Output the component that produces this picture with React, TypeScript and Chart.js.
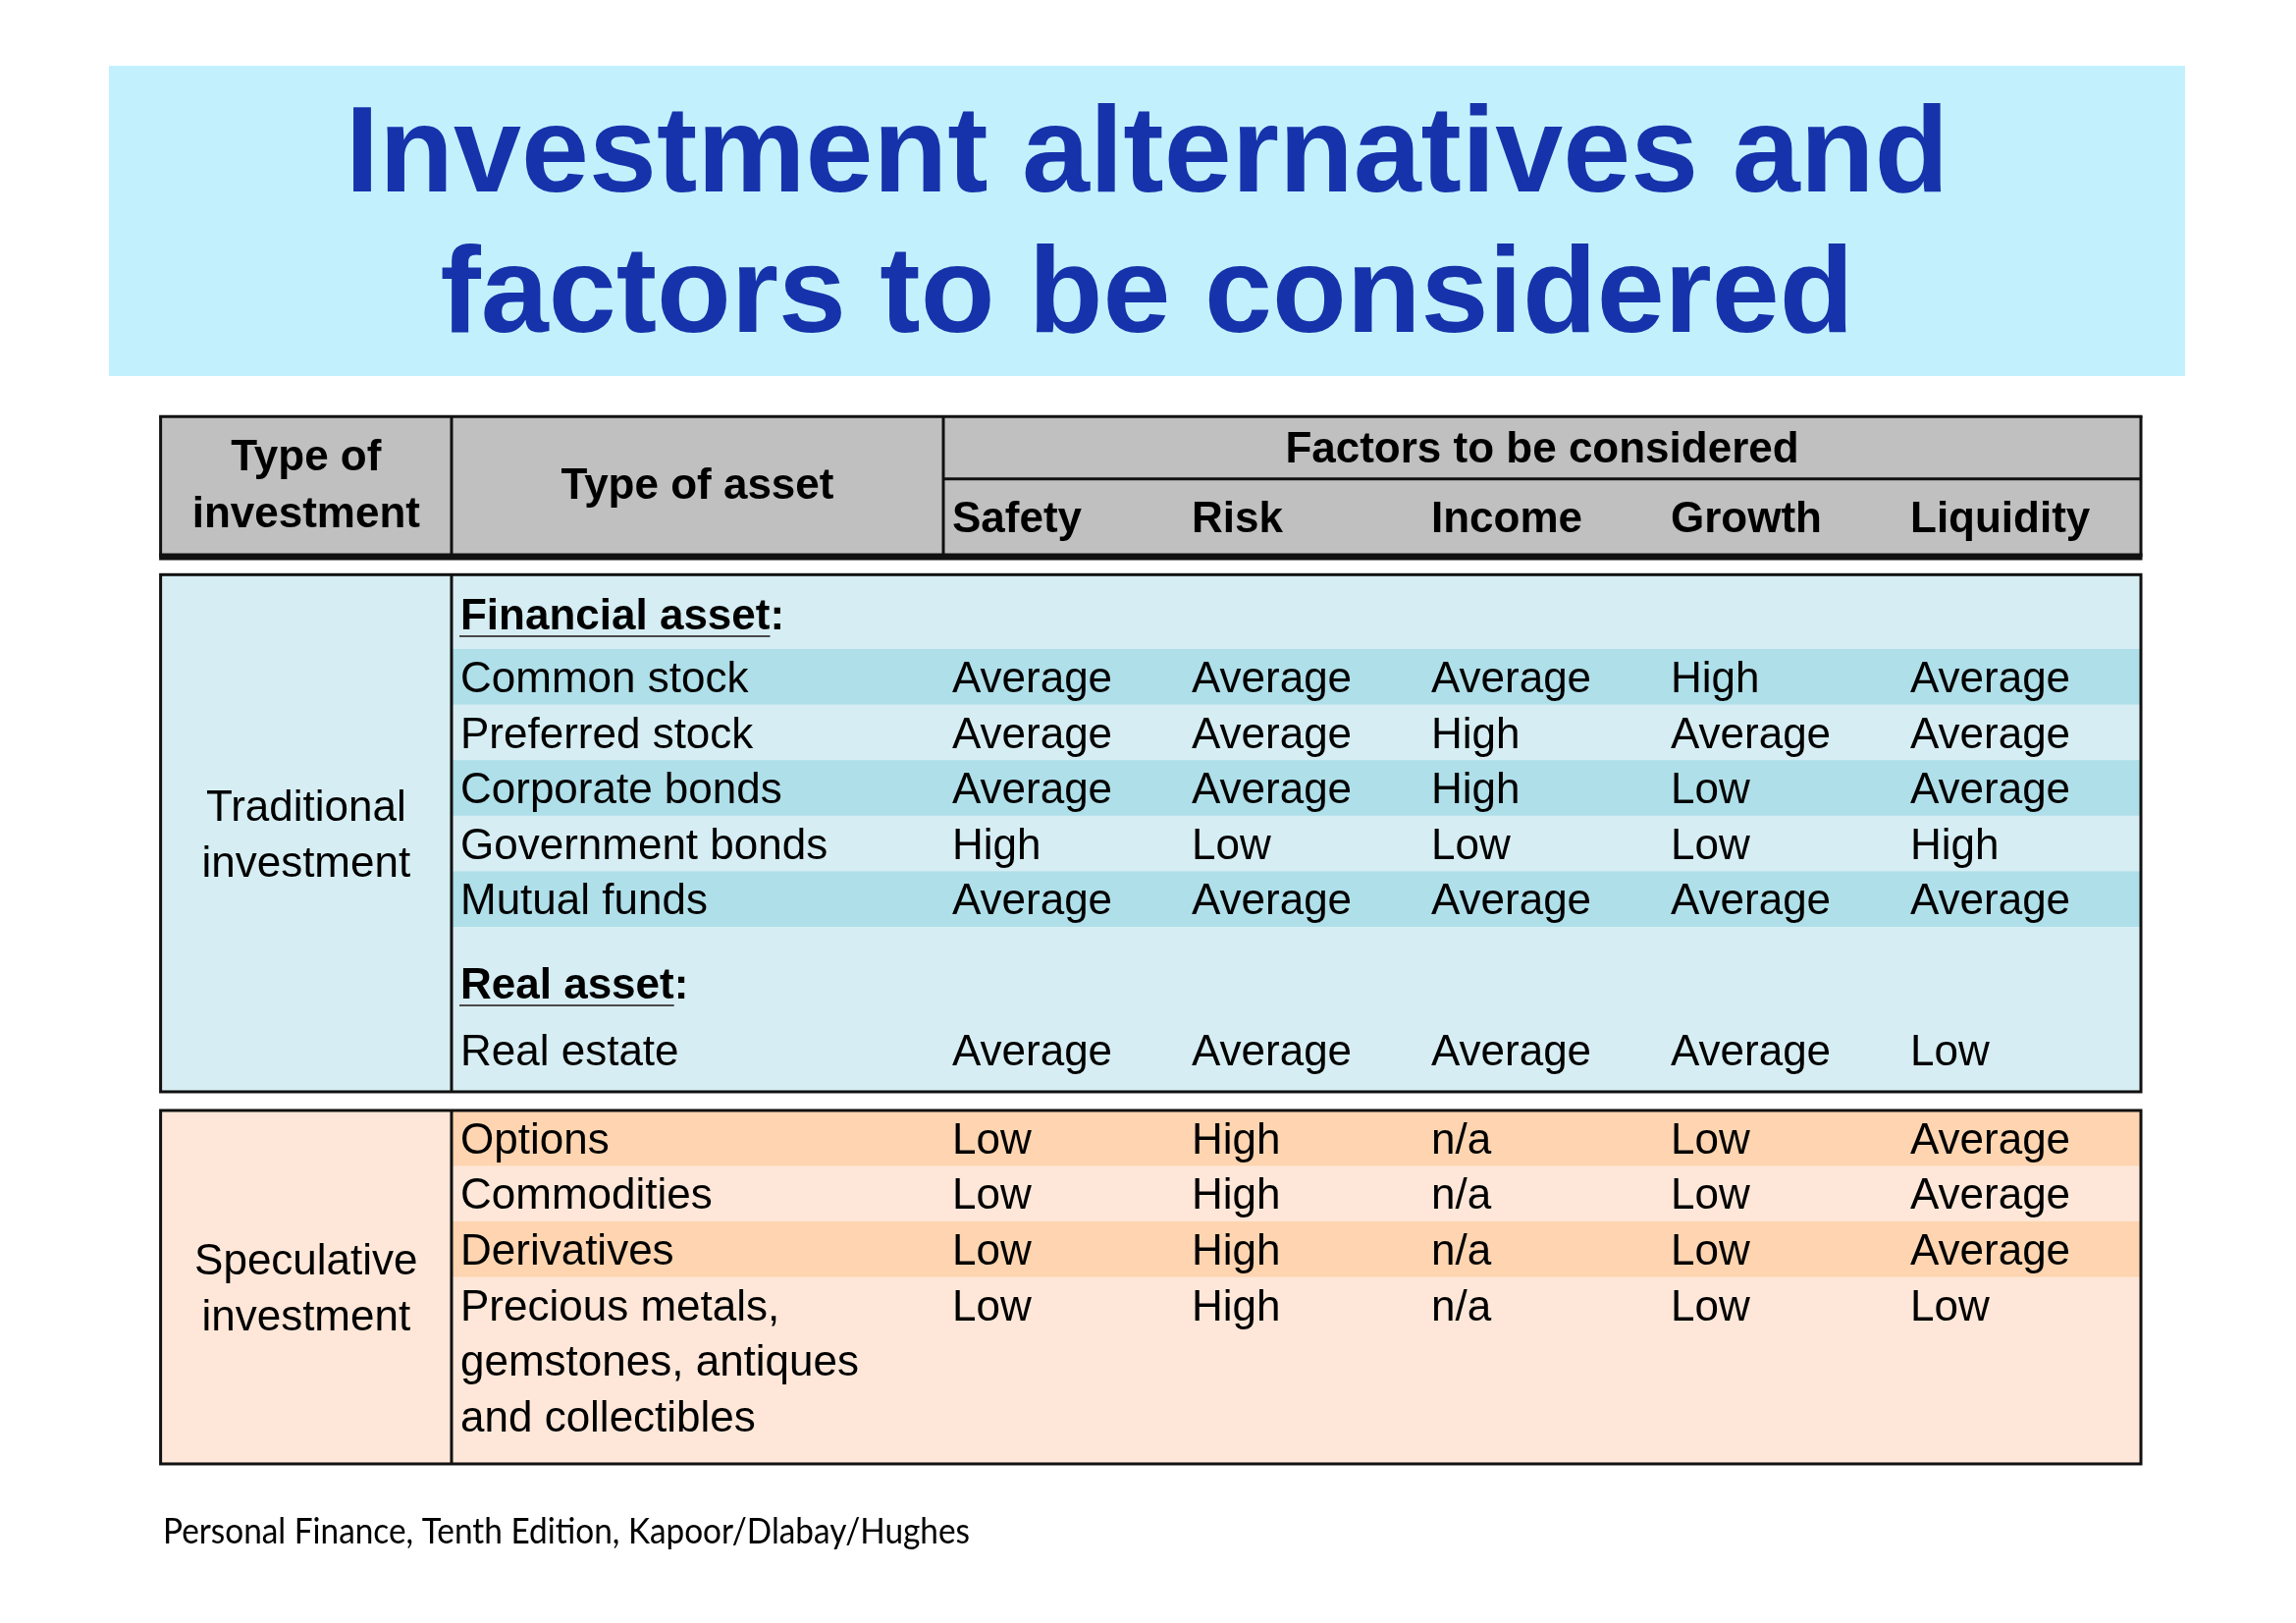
import React, { useEffect, useRef } from 'react';
import { Chart, registerables } from 'chart.js';

Chart.register(...registerables);

// ---------- content ----------
const TITLE_LINES = ['Investment alternatives and', 'factors to be considered'];
const SOURCE = 'Personal Finance, Tenth Edition, Kapoor/Dlabay/Hughes';

const HEAD_INVESTMENT = ['Type of', 'investment'];
const HEAD_ASSET = 'Type of asset';
const HEAD_FACTORS = 'Factors to be considered';
const FACTORS = ['Safety', 'Risk', 'Income', 'Growth', 'Liquidity'];

const TRAD_LABEL = ['Traditional', 'investment'];
const TRAD_HEADINGS = ['Financial asset', 'Real asset'];
const TRAD_ASSETS = ['Common stock', 'Preferred stock', 'Corporate bonds', 'Government bonds', 'Mutual funds', 'Real estate'];
const TRAD_SAFETY = ['Average', 'Average', 'Average', 'High', 'Average', 'Average'];
const TRAD_RISK = ['Average', 'Average', 'Average', 'Low', 'Average', 'Average'];
const TRAD_INCOME = ['Average', 'High', 'High', 'Low', 'Average', 'Average'];
const TRAD_GROWTH = ['High', 'Average', 'Low', 'Low', 'Average', 'Average'];
const TRAD_LIQUIDITY = ['Average', 'Average', 'Average', 'High', 'Average', 'Low'];

const SPEC_LABEL = ['Speculative', 'investment'];
const SPEC_ASSETS = [['Options'], ['Commodities'], ['Derivatives'], ['Precious metals,', 'gemstones, antiques', 'and collectibles']];
const SPEC_SAFETY = ['Low', 'Low', 'Low', 'Low'];
const SPEC_RISK = ['High', 'High', 'High', 'High'];
const SPEC_INCOME = ['n/a', 'n/a', 'n/a', 'n/a'];
const SPEC_GROWTH = ['Low', 'Low', 'Low', 'Low'];
const SPEC_LIQUIDITY = ['Average', 'Average', 'Average', 'Low'];

// ---------- layout (x: factor-column units, y: row units) ----------
const X_MIN = -3.9385;
const X_MAX = 5.6475;
const Y_MIN = -11.678;
const Y_MAX = 17.527;
const COL_INV = [-3.268, -2.0533];
const COL_ASSET = [-2.0533, 0];
const TABLE_RIGHT = 5;
const HEADER = { top: -4.182, mid: -3.062, bottom: -1.661 };
const HEADER_TEXT_Y = { inv: [-3.489, -2.474], asset: -2.976, factors: -3.64, names: -2.386 };
const TRAD_BLOCK = [-1.337, 7.968];
const SPEC_BLOCK = [8.304, 14.664];
const TRAD_ROW_Y = [0.5, 1.5, 2.5, 3.5, 4.5, 7.213];
const TRAD_HEADING_Y = [-0.632, 6.011];
const TRAD_BANDED = [0, 2, 4];
const SPEC_ROW_Y = [8.8, 9.8, 10.8, 11.8];
const SPEC_BANDED = [0, 2];

// ---------- styles ----------
const FONT = '"Liberation Sans", Arial, Helvetica, sans-serif';
const FONT_SIZE = 44;
const CAP = 0.716 * FONT_SIZE;
const PAD = 9;
const TITLE_BG = '#c2f1fd';
const TITLE_COLOR = '#1733ab';
const HEADER_BG = '#c0c0c0';
const TRAD_BG = '#d6eef3';
const TRAD_BAND = '#afdfe9';
const SPEC_BG = '#fee7d8';
const SPEC_BAND = '#fed5b0';
const LINE = '#111111';

const FACTOR_TRAD = [TRAD_SAFETY, TRAD_RISK, TRAD_INCOME, TRAD_GROWTH, TRAD_LIQUIDITY];
const FACTOR_SPEC = [SPEC_SAFETY, SPEC_RISK, SPEC_INCOME, SPEC_GROWTH, SPEC_LIQUIDITY];

function buildDatasets() {
  const ds: any[] = [];
  ds.push({
    label: 'trad-asset',
    data: TRAD_ASSETS.map((_, i) => ({ x: COL_ASSET[0], y: TRAD_ROW_Y[i] })),
    cellText: TRAD_ASSETS.map((t) => [t]),
  });
  FACTORS.forEach((f, fi) => {
    ds.push({
      label: 'trad-' + f,
      data: FACTOR_TRAD[fi].map((_, i) => ({ x: fi, y: TRAD_ROW_Y[i] })),
      cellText: FACTOR_TRAD[fi].map((t) => [t]),
    });
  });
  ds.push({
    label: 'spec-asset',
    data: SPEC_ASSETS.map((_, i) => ({ x: COL_ASSET[0], y: SPEC_ROW_Y[i] })),
    cellText: SPEC_ASSETS,
  });
  FACTORS.forEach((f, fi) => {
    ds.push({
      label: 'spec-' + f,
      data: FACTOR_SPEC[fi].map((_, i) => ({ x: fi, y: SPEC_ROW_Y[i] })),
      cellText: FACTOR_SPEC[fi].map((t) => [t]),
    });
  });
  return ds;
}

const tablePlugin = {
  id: 'investmentTable',
  afterDraw(chart: any) {
    const ctx: CanvasRenderingContext2D = chart.ctx;
    const xs = chart.scales.x;
    const ys = chart.scales.y;
    const X = (v: number) => xs.getPixelForValue(v);
    const Y = (v: number) => ys.getPixelForValue(v);
    const unit = Y(1) - Y(0);
    const line = (x1: number, y1: number, x2: number, y2: number) => {
      ctx.beginPath();
      ctx.moveTo(x1, y1);
      ctx.lineTo(x2, y2);
      ctx.stroke();
    };
    const base = (v: number) => Y(v) + CAP / 2;

    ctx.save();
    ctx.textBaseline = 'alphabetic';

    // title
    ctx.fillStyle = TITLE_BG;
    ctx.fillRect(111, 67, 2115, 316);
    ctx.fillStyle = TITLE_COLOR;
    ctx.font = `bold 124px ${FONT}`;
    ctx.textAlign = 'center';
    TITLE_LINES.forEach((t, i) => ctx.fillText(t, 1168.5, 195 + i * 143));

    const xL = X(COL_INV[0]);
    const xD = X(COL_ASSET[0]);
    const xF = X(0);
    const xR = X(TABLE_RIGHT);

    // header
    const hT = Y(HEADER.top);
    const hM = Y(HEADER.mid);
    const hB = Y(HEADER.bottom);
    ctx.fillStyle = HEADER_BG;
    ctx.fillRect(xL, hT, xR - xL, hB - hT);
    ctx.strokeStyle = LINE;
    ctx.lineWidth = 3;
    line(xL - 1.5, hT, xR + 1.5, hT);
    line(xL, hT, xL, hB);
    line(xR, hT, xR, hB);
    line(xD, hT, xD, hB);
    line(xF, hT, xF, hB);
    line(xF, hM, xR, hM);
    ctx.lineWidth = 7;
    line(xL - 1.5, hB, xR + 1.5, hB);

    ctx.fillStyle = '#000';
    ctx.font = `bold ${FONT_SIZE}px ${FONT}`;
    ctx.textAlign = 'center';
    HEAD_INVESTMENT.forEach((t, i) => ctx.fillText(t, (xL + xD) / 2, base(HEADER_TEXT_Y.inv[i])));
    ctx.fillText(HEAD_ASSET, (xD + xF) / 2, base(HEADER_TEXT_Y.asset));
    ctx.fillText(HEAD_FACTORS, (xF + xR) / 2, base(HEADER_TEXT_Y.factors));
    ctx.textAlign = 'left';
    FACTORS.forEach((f, i) => ctx.fillText(f, X(i) + PAD, base(HEADER_TEXT_Y.names)));

    // blocks
    const block = (range: number[], bg: string, band: string, rowsY: number[], banded: number[], label: string[]) => {
      const t = Y(range[0]);
      const b = Y(range[1]);
      ctx.fillStyle = bg;
      ctx.fillRect(xL, t, xR - xL, b - t);
      ctx.fillStyle = band;
      banded.forEach((ri) => {
        const top = Math.max(Y(rowsY[ri] - 0.5), t);
        const bot = Y(rowsY[ri] + 0.5);
        ctx.fillRect(xD, top, xR - xD, bot - top);
      });
      ctx.strokeStyle = LINE;
      ctx.lineWidth = 3;
      ctx.strokeRect(xL, t, xR - xL, b - t);
      line(xD, t, xD, b);
      const mid = (range[0] + range[1]) / 2;
      ctx.fillStyle = '#000';
      ctx.font = `${FONT_SIZE}px ${FONT}`;
      ctx.textAlign = 'center';
      label.forEach((l, i) => ctx.fillText(l, (xL + xD) / 2, base(mid - 0.5 + i)));
    };
    block(TRAD_BLOCK, TRAD_BG, TRAD_BAND, TRAD_ROW_Y, TRAD_BANDED, TRAD_LABEL);
    block(SPEC_BLOCK, SPEC_BG, SPEC_BAND, SPEC_ROW_Y, SPEC_BANDED, SPEC_LABEL);

    // headings (underlined)
    ctx.textAlign = 'left';
    ctx.font = `bold ${FONT_SIZE}px ${FONT}`;
    TRAD_HEADINGS.forEach((h, i) => {
      const bx = xD + PAD;
      const by = base(TRAD_HEADING_Y[i]);
      ctx.fillStyle = '#000';
      ctx.fillText(h, bx, by);
      const w = ctx.measureText(h).width;
      ctx.fillText(':', bx + w, by);
      ctx.strokeStyle = '#4a4a4a';
      ctx.lineWidth = 2;
      line(bx - 1, by + 7, bx + w, by + 7);
    });

    // cells from dataset points
    ctx.font = `${FONT_SIZE}px ${FONT}`;
    ctx.fillStyle = '#000';
    chart.data.datasets.forEach((ds: any, di: number) => {
      const meta = chart.getDatasetMeta(di);
      meta.data.forEach((pt: any, j: number) => {
        const lines: string[] = ds.cellText[j];
        lines.forEach((l, k) => ctx.fillText(l, pt.x + PAD, pt.y + k * unit + CAP / 2));
      });
    });

    // source
    ctx.font = `36px Lato, "Open Sans", sans-serif`;
    ctx.fillStyle = '#000';
    ctx.fillText(SOURCE, 166, 1572, 822);

    ctx.restore();
  },
};

export default function App() {
  const ref = useRef<HTMLCanvasElement>(null);
  useEffect(() => {
    document.body.style.margin = '0';
    document.body.style.overflow = 'hidden';
    const canvas = ref.current;
    if (!canvas) return;
    const chart = new Chart(canvas, {
      type: 'scatter',
      data: { datasets: buildDatasets() },
      options: {
        responsive: false,
        animation: false,
        events: [],
        devicePixelRatio: 1,
        layout: { padding: 0, autoPadding: false },
        plugins: {
          legend: { display: false },
          tooltip: { enabled: false },
          title: { display: false },
        },
        elements: { point: { radius: 0, hoverRadius: 0, borderWidth: 0 } },
        scales: {
          x: { type: 'linear', display: false, min: X_MIN, max: X_MAX },
          y: { type: 'linear', display: false, min: Y_MIN, max: Y_MAX, reverse: true },
        },
      } as any,
      plugins: [tablePlugin],
    });
    return () => chart.destroy();
  }, []);
  return (
    <canvas
      ref={ref}
      width={2339}
      height={1653}
      style={{ display: 'block', width: 2339, height: 1653, background: '#ffffff' }}
    />
  );
}
